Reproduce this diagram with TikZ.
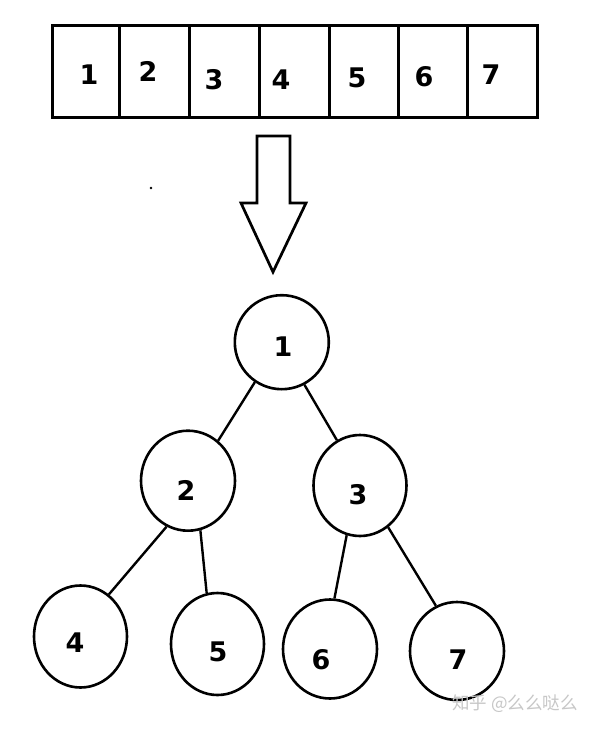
\documentclass[tikz,border=0pt]{standalone}
\usepackage{fontspec}
\usetikzlibrary{shapes.geometric}
\newfontfamily\digitfont{DejaVu Sans}
\newfontfamily\cjk{Noto Sans CJK SC}
\begin{document}
\begin{tikzpicture}[x=1pt,y=-1pt,
  num/.style={font=\digitfont\bfseries\fontsize{27}{27}\selectfont, inner sep=0pt},
  tn/.style={ellipse, draw, line width=2.6pt, inner sep=0pt},
  edge/.style={line width=2.4pt},
  box/.style={line width=3pt}]
\useasboundingbox (0,0) rectangle (594,731);
\fill[white] (0,0) rectangle (594,731);
% array
\draw[box] (52,25) rectangle (537,117);
\foreach \x in {119,189,259,329,398,467} \draw[box] (\x,25) -- (\x,117);
\node[num] (a1) at (89,75) {1};
\node[num] (a2) at (148,71) {2};
\node[num] (a3) at (214,80) {3};
\node[num] (a4) at (281,80) {4};
\node[num] (a5) at (357,78) {5};
\node[num] (a6) at (424,77) {6};
\node[num] (a7) at (491,75) {7};
% big arrow
\draw[line width=2.7pt, line join=miter] (257,136) -- (290,136) -- (290,203) -- (306,203) -- (273,272) -- (241,203) -- (257,203) -- cycle;
% small dot
\fill (151,188) circle (1.3);
% tree
\node[tn, minimum width=94, minimum height=94] (n1) at (281.8,342.2) {};
\node[tn, minimum width=94, minimum height=100] (n2) at (188,480.7) {};
\node[tn, minimum width=93, minimum height=101] (n3) at (360,485.5) {};
\node[tn, minimum width=93, minimum height=102] (n4) at (80.5,636.5) {};
\node[tn, minimum width=93, minimum height=102] (n5) at (217.5,644) {};
\node[tn, minimum width=94, minimum height=99] (n6) at (330,649) {};
\node[tn, minimum width=94, minimum height=98] (n7) at (457,651) {};
\node[num] (l1) at (283,346.7) {1};
\node[num] (l2) at (186,490) {2};
\node[num] (l3) at (358,495) {3};
\node[num] (l4) at (75,643) {4};
\node[num] (l5) at (218,651.7) {5};
\node[num] (l6) at (321,660) {6};
\node[num] (l7) at (458,660) {7};
\draw[edge] (n1.236) -- (n2.53);
\draw[edge] (n1.298.5) -- (n3.117.3);
\draw[edge] (n2.245.4) -- (n4.56.8);
\draw[edge] (n2.284) -- (n5.102.7);
\draw[edge] (n3.255.8) -- (n6.85.2);
\draw[edge] (n3.304) -- (n7.115.9);
% watermark
\node[font=\cjk\fontsize{17.5}{17.5}\selectfont, text=black!22, inner sep=0pt, anchor=west] (wm) at (452,704) {知乎 @么么哒么};
\end{tikzpicture}
\end{document}
